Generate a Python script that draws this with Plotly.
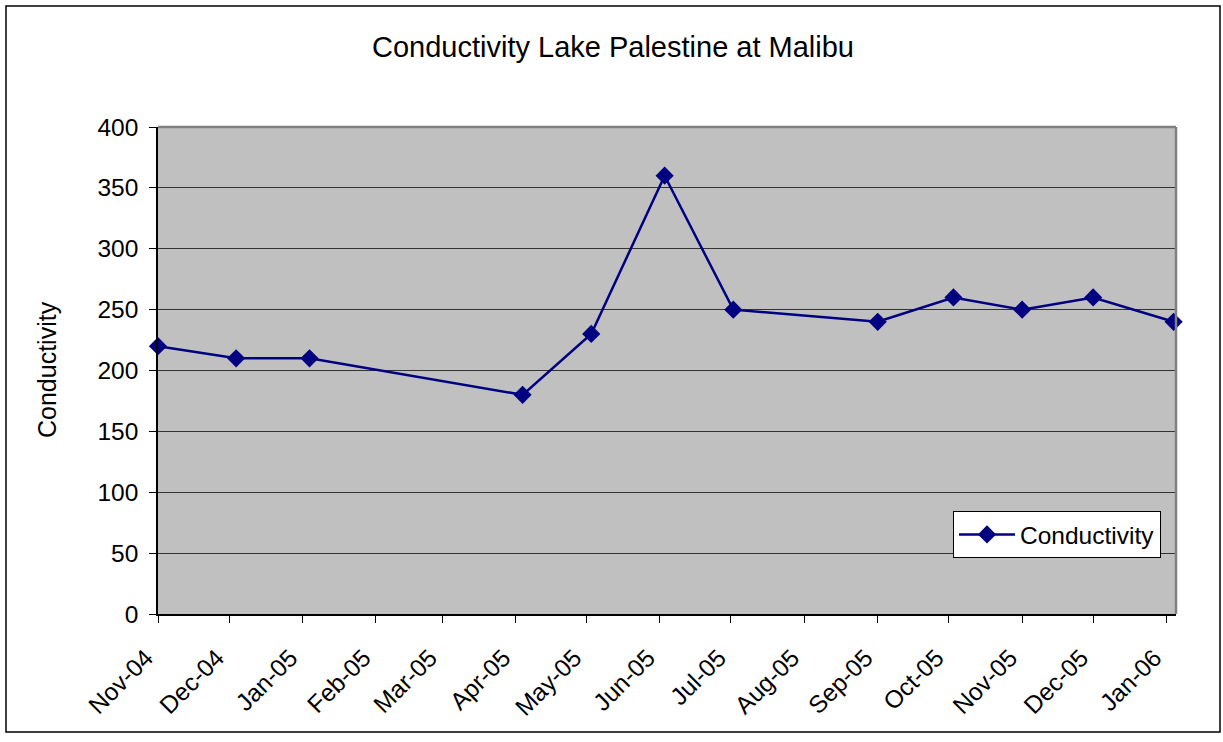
import plotly.graph_objects as go

dates = ["2004-11-01", "2004-12-04", "2005-01-04", "2005-04-04", "2005-05-03",
         "2005-06-03", "2005-07-02", "2005-09-01", "2005-10-03", "2005-11-01",
         "2005-12-01", "2006-01-04"]
conductivity = [220, 210, 210, 180, 230, 360, 250, 240, 260, 250, 260, 240]

title_text = "Conductivity Lake Palestine at Malibu"
y_title = "Conductivity"
series_name = "Conductivity"
FONT = "Liberation Sans, Arial, sans-serif"

W, H = 1223, 742
L, R, T, B = 158, 1176, 127, 614
pw, ph = R - L, B - T

def px(x):
    return (x - L) / pw

def py(y):
    return (B - y) / ph

fig = go.Figure()
fig.add_trace(go.Scatter(
    x=dates, y=conductivity, name=series_name, mode="lines+markers",
    line=dict(color="#000080", width=2.5),
    marker=dict(symbol="diamond", size=14, color="#000080"),
    cliponaxis=False,
))

fig.update_layout(
    width=W, height=H,
    margin=dict(l=L, r=W - R, t=T, b=H - B, pad=0),
    paper_bgcolor="white", plot_bgcolor="#C0C0C0",
    font=dict(family=FONT, size=24.5, color="black"),
    showlegend=True,
    legend=dict(x=px(953), y=py(511), xanchor="left", yanchor="top",
                bgcolor="white", bordercolor="black", borderwidth=1,
                font=dict(size=24.5), itemwidth=56),
    xaxis=dict(
        type="date", range=["2004-11-01", "2006-01-05"],
        tick0="2004-11-01", dtick="M1", tickformat="%b-%y",
        tickangle=-45, ticks="outside", ticklen=7, tickcolor="black",
        ticklabelstandoff=11, ticklabelshift=-12,
        showgrid=False, showline=True, linecolor="black", linewidth=1.5,
        zeroline=False, tickfont=dict(size=24.5),
    ),
    yaxis=dict(
        range=[0, 400], dtick=50, ticks="outside", ticklen=7, tickcolor="black",
        ticklabelstandoff=6,
        showgrid=True, gridcolor="#333333", gridwidth=1,
        showline=True, linecolor="black", linewidth=1.5,
        zeroline=False, tickfont=dict(size=24.5),
    ),
    annotations=[
        dict(text=title_text, x=px(613), y=py(47), xref="paper", yref="paper",
             showarrow=False, font=dict(size=29), xanchor="center", yanchor="middle"),
        dict(text=y_title, x=px(47), y=py(370), xref="paper", yref="paper",
             showarrow=False, textangle=-90, font=dict(size=25),
             xanchor="center", yanchor="middle"),
    ],
    shapes=[
        dict(type="rect", xref="paper", yref="paper",
             x0=px(6), x1=px(1220), y0=py(732), y1=py(6),
             line=dict(color="black", width=1.5), fillcolor="rgba(0,0,0,0)", layer="below"),
        dict(type="line", xref="paper", yref="paper", x0=0, x1=1, y0=1, y1=1,
             line=dict(color="#808080", width=2.5)),
        dict(type="line", xref="paper", yref="paper", x0=1, x1=1, y0=0, y1=1,
             line=dict(color="#808080", width=2.5)),
    ],
)

fig.write_html(
    "out.html",
    config={"displayModeBar": False},
    post_script="document.body.style.margin='0px';document.body.style.overflow='hidden';",
)
